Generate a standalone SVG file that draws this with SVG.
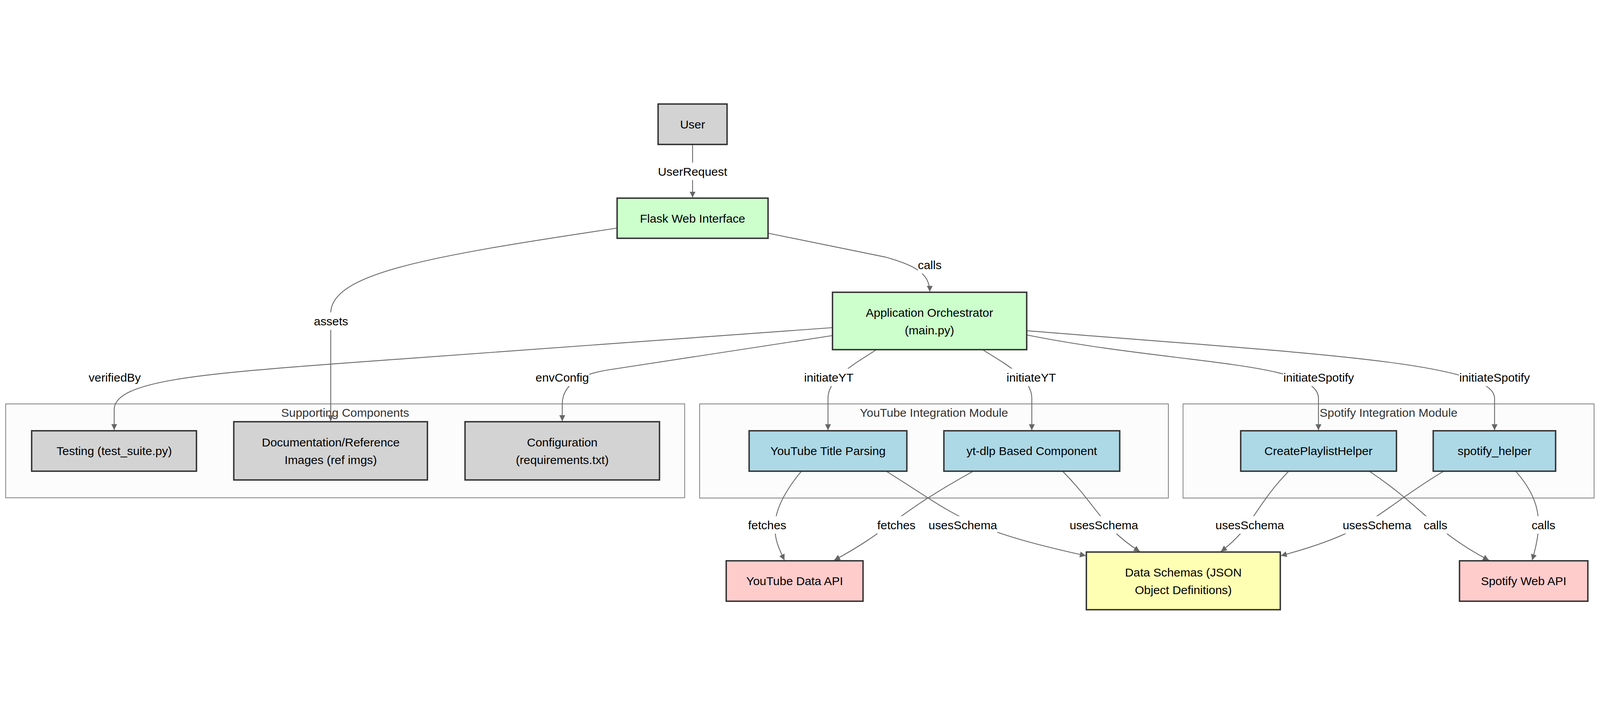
<svg xmlns="http://www.w3.org/2000/svg" width="5660" height="1828" viewBox="0 0 5660 1828" style="width:100vw;height:100vh;max-width:5660px;max-height:1828px;">
<style>
  text { font-family: "Liberation Sans", Arial, sans-serif; font-size: 42px; text-anchor: middle; dominant-baseline: central; }
  .node rect { stroke: #333333; stroke-width: 5; }
  .node text { fill: #000000; }
  .gray { fill: #d3d3d3; }
  .green { fill: #ccffcc; }
  .blue { fill: #add8e6; }
  .pink { fill: #ffcccc; }
  .yellow { fill: #ffffb3; }
  .cluster rect { fill: #fcfcfc; stroke: #777777; stroke-width: 2.6; }
  .cluster text { fill: #333333; }
  .edge { fill: none; stroke: #666666; stroke-width: 3; marker-end: url(#arrow); }
  .lbl rect { fill: #ffffff; }
  .lbl text { fill: #000000; }
</style>
<defs>
  <marker id="arrow" viewBox="0 0 10 10" refX="10" refY="5" markerUnits="userSpaceOnUse" markerWidth="21" markerHeight="21" orient="auto">
    <path d="M0,0 L10,5 L0,10 z" fill="#666666"/>
  </marker>
</defs>
<rect x="0" y="0" width="5660" height="1828" fill="#ffffff"/>

<g id="clusters">
  <g id="cluster-supporting" class="cluster">
    <rect x="20" y="1080" width="2402" height="332"/>
    <text x="1221" y="1110">Supporting Components</text>
  </g>
  <g id="cluster-youtube" class="cluster">
    <rect x="2475" y="1080" width="1658" height="333"/>
    <text x="3304" y="1110">YouTube Integration Module</text>
  </g>
  <g id="cluster-spotify" class="cluster">
    <rect x="4185" y="1080" width="1454" height="333"/>
    <text x="4912" y="1110">Spotify Integration Module</text>
  </g>
</g>

<g id="connectors">
  <path class="edge" d="M2450,162 L2450,350"/>
  <path class="edge" d="M2717,476 L3130,560 C3240,590 3289,620 3289,683"/>
  <path class="edge" d="M2183,458 C1500,560 1170,620 1170,760 L1170,1141"/>
  <path class="edge" d="M2946,810 L1171,939 C700,975 404,1000 404,1100 L404,1172"/>
  <path class="edge" d="M2946,838 L2150,960 Q1990,985 1989,1080 L1989,1141"/>
  <path class="edge" d="M3099,889 C3020,940 2929,990 2929,1060 L2929,1173"/>
  <path class="edge" d="M3477,889 C3560,940 3650,990 3650,1060 L3650,1173"/>
  <path class="edge" d="M3632,836 C4150,940 4664,930 4664,1060 L4664,1173"/>
  <path class="edge" d="M3632,821 C4600,900 5287,930 5287,1060 L5287,1173"/>
  <path class="edge" d="M2835,1318 C2700,1480 2740,1560 2775,1633"/>
  <path class="edge" d="M3443,1318 C3150,1480 3160,1520 2951,1633"/>
  <path class="edge" d="M3135,1318 C3380,1470 3400,1520 3841,1617"/>
  <path class="edge" d="M3759,1318 C3880,1440 3900,1520 4032,1602"/>
  <path class="edge" d="M4559,1318 C4440,1440 4430,1520 4319,1602"/>
  <path class="edge" d="M5107,1318 C4870,1460 4860,1530 4531,1617"/>
  <path class="edge" d="M4844,1318 C5040,1450 5070,1530 5267,1633"/>
  <path class="edge" d="M5362,1318 C5450,1420 5460,1500 5420,1633"/>

  <g class="lbl"><rect x="2328" y="226" width="244" height="62"/><text x="2450" y="257">UserRequest</text></g>
  <g class="lbl"><rect x="3247" y="557" width="84" height="62"/><text x="3289" y="588">calls</text></g>
  <g class="lbl"><rect x="1110" y="756" width="121" height="62"/><text x="1171" y="787">assets</text></g>
  <g class="lbl"><rect x="313" y="955" width="186" height="62"/><text x="406" y="986">verifiedBy</text></g>
  <g class="lbl"><rect x="1894" y="955" width="190" height="62"/><text x="1989" y="986">envConfig</text></g>
  <g class="lbl"><rect x="2843" y="955" width="178" height="62"/><text x="2932" y="986">initiateYT</text></g>
  <g class="lbl"><rect x="3559" y="955" width="178" height="62"/><text x="3648" y="986">initiateYT</text></g>
  <g class="lbl"><rect x="4539" y="955" width="252" height="62"/><text x="4665" y="986">initiateSpotify</text></g>
  <g class="lbl"><rect x="5161" y="955" width="252" height="62"/><text x="5287" y="986">initiateSpotify</text></g>
  <g class="lbl"><rect x="2646" y="1477" width="137" height="62"/><text x="2714" y="1508">fetches</text></g>
  <g class="lbl"><rect x="3103" y="1477" width="137" height="62"/><text x="3171" y="1508">fetches</text></g>
  <g class="lbl"><rect x="3284" y="1477" width="244" height="62"/><text x="3406" y="1508">usesSchema</text></g>
  <g class="lbl"><rect x="3783" y="1477" width="244" height="62"/><text x="3905" y="1508">usesSchema</text></g>
  <g class="lbl"><rect x="4299" y="1477" width="244" height="62"/><text x="4421" y="1508">usesSchema</text></g>
  <g class="lbl"><rect x="4749" y="1477" width="244" height="62"/><text x="4871" y="1508">usesSchema</text></g>
  <g class="lbl"><rect x="5036" y="1477" width="85" height="62"/><text x="5078" y="1508">calls</text></g>
  <g class="lbl"><rect x="5418" y="1477" width="85" height="62"/><text x="5460" y="1508">calls</text></g>
</g>

<g id="node-user" class="node"><rect class="gray" x="2328" y="19" width="244" height="143"/><text x="2450" y="90">User</text></g>
<g id="node-flask" class="node"><rect class="green" x="2183" y="352" width="534" height="142"/><text x="2450" y="423">Flask Web Interface</text></g>
<g id="node-orchestrator" class="node"><rect class="green" x="2945" y="685" width="687" height="203"/><text x="3288" y="756">Application Orchestrator</text><text x="3288" y="818">(main.py)</text></g>
<g id="node-testing" class="node"><rect class="gray" x="112" y="1175" width="583" height="143"/><text x="404" y="1246">Testing (test_suite.py)</text></g>
<g id="node-docs" class="node"><rect class="gray" x="827" y="1143" width="685" height="206"/><text x="1170" y="1215">Documentation/Reference</text><text x="1170" y="1277">Images (ref imgs)</text></g>
<g id="node-config" class="node"><rect class="gray" x="1645" y="1143" width="688" height="206"/><text x="1989" y="1215">Configuration</text><text x="1989" y="1277">(requirements.txt)</text></g>
<g id="node-ytparse" class="node"><rect class="blue" x="2650" y="1175" width="558" height="143"/><text x="2929" y="1246">YouTube Title Parsing</text></g>
<g id="node-ytdlp" class="node"><rect class="blue" x="3339" y="1175" width="622" height="143"/><text x="3650" y="1246">yt-dlp Based Component</text></g>
<g id="node-cph" class="node"><rect class="blue" x="4389" y="1175" width="551" height="143"/><text x="4664" y="1246">CreatePlaylistHelper</text></g>
<g id="node-sh" class="node"><rect class="blue" x="5070" y="1175" width="433" height="143"/><text x="5287" y="1246">spotify_helper</text></g>
<g id="node-ytapi" class="node"><rect class="pink" x="2569" y="1635" width="484" height="143"/><text x="2811" y="1706">YouTube Data API</text></g>
<g id="node-schemas" class="node"><rect class="yellow" x="3843" y="1604" width="686" height="204"/><text x="4186" y="1675">Data Schemas (JSON</text><text x="4186" y="1737">Object Definitions)</text></g>
<g id="node-spapi" class="node"><rect class="pink" x="5163" y="1635" width="454" height="143"/><text x="5390" y="1706">Spotify Web API</text></g>
</svg>
